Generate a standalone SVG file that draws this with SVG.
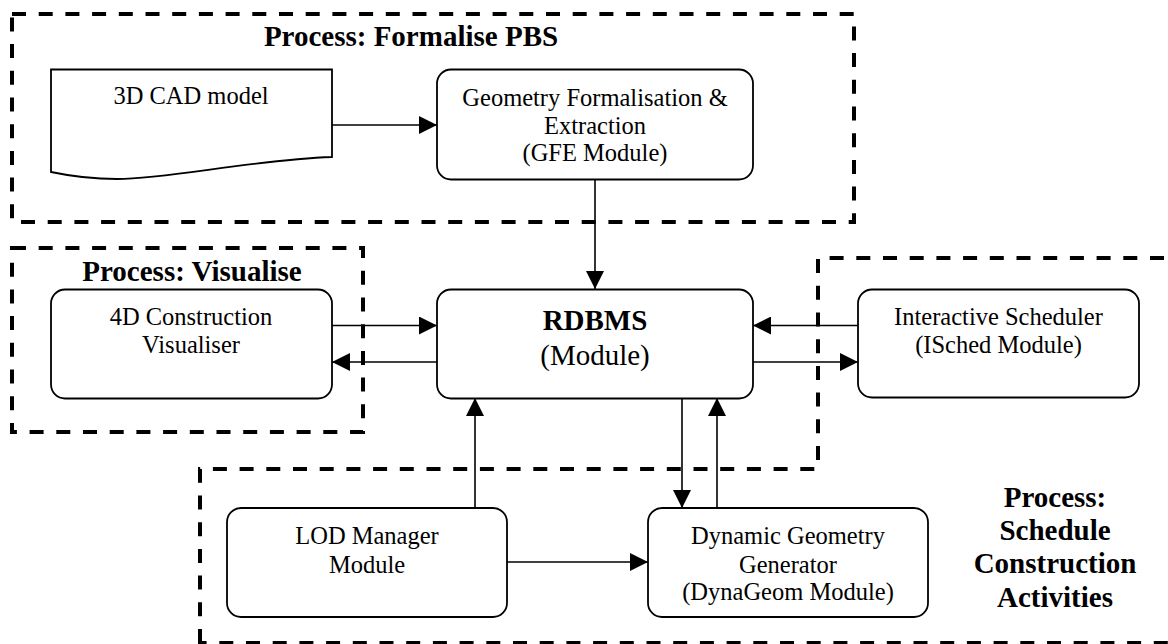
<svg xmlns="http://www.w3.org/2000/svg" width="1168" height="644" viewBox="0 0 1168 644">
<style>
.bg{fill:#fff}
.proc{fill:none;stroke:#000;stroke-width:4;stroke-dasharray:14 12.7}
.node{fill:#fff;stroke:#000;stroke-width:1.8}
.conn{fill:none;stroke:#000;stroke-width:1.6}
.t{font-family:"Liberation Serif","Times New Roman",serif;font-size:24.5px;fill:#000;text-anchor:middle}
.title{font-family:"Liberation Serif","Times New Roman",serif;font-size:29px;font-weight:bold;fill:#000;text-anchor:middle}
.big{font-family:"Liberation Serif","Times New Roman",serif;font-size:29px;fill:#000;text-anchor:middle}
</style>
<defs>
<marker id="ah" markerUnits="userSpaceOnUse" markerWidth="18" markerHeight="18" viewBox="0 0 18 18" refX="18" refY="9" orient="auto">
<path d="M0,0 L18,9 L0,18 Z" fill="#000"/>
</marker>
</defs>
<rect class="bg" x="0" y="0" width="1168" height="644"/>

<g id="process-formalise">
<rect class="proc" x="12" y="14" width="842" height="208"/>
<text class="title" x="411" y="46">Process: Formalise PBS</text>
</g>
<g id="process-visualise">
<rect class="proc" x="12" y="248" width="351" height="184"/>
<text class="title" x="192" y="281">Process: Visualise</text>
</g>
<g id="process-schedule">
<path class="proc" d="M200,643 V469 H818 V258 H1180 V643 Z"/>
<text class="title" x="1055" y="507">Process:</text>
<text class="title" x="1055" y="540">Schedule</text>
<text class="title" x="1055" y="573">Construction</text>
<text class="title" x="1055" y="607">Activities</text>
</g>

<g id="connectors">
<line class="conn" x1="332" y1="125" x2="437" y2="125" marker-end="url(#ah)"/>
<line class="conn" x1="595" y1="179" x2="595" y2="289" marker-end="url(#ah)"/>
<line class="conn" x1="332" y1="325.5" x2="437" y2="325.5" marker-end="url(#ah)"/>
<line class="conn" x1="437" y1="362" x2="332" y2="362" marker-end="url(#ah)"/>
<line class="conn" x1="858" y1="325.5" x2="753" y2="325.5" marker-end="url(#ah)"/>
<line class="conn" x1="753" y1="362" x2="858" y2="362" marker-end="url(#ah)"/>
<line class="conn" x1="475" y1="508" x2="475" y2="398" marker-end="url(#ah)"/>
<line class="conn" x1="682" y1="398" x2="682" y2="508" marker-end="url(#ah)"/>
<line class="conn" x1="717" y1="508" x2="717" y2="398" marker-end="url(#ah)"/>
<line class="conn" x1="507" y1="562" x2="648" y2="562" marker-end="url(#ah)"/>
</g>

<g id="cad-model">
<path class="node" d="M51,69.5 H332 V157 C250,160 170,179 117,179 C95,179 70,176 51,172 Z"/>
<text class="t" x="191" y="104">3D CAD model</text>
</g>
<g id="gfe">
<rect class="node" x="437" y="69.5" width="316" height="110" rx="14"/>
<text class="t" x="595" y="106">Geometry Formalisation &amp;</text>
<text class="t" x="595" y="134">Extraction</text>
<text class="t" x="595" y="161">(GFE Module)</text>
</g>
<g id="visualiser">
<rect class="node" x="51" y="289.5" width="281" height="109" rx="14"/>
<text class="t" x="191" y="325">4D Construction</text>
<text class="t" x="191" y="353">Visualiser</text>
</g>
<g id="rdbms">
<rect class="node" x="437" y="289.5" width="316" height="109" rx="14"/>
<text class="title" x="595" y="330">RDBMS</text>
<text class="big" x="595" y="365">(Module)</text>
</g>
<g id="isched">
<rect class="node" x="858" y="289.5" width="281" height="108" rx="14"/>
<text class="t" x="998.5" y="325">Interactive Scheduler</text>
<text class="t" x="998.5" y="353">(ISched Module)</text>
</g>
<g id="lod">
<rect class="node" x="227" y="508" width="280" height="109" rx="14"/>
<text class="t" x="367" y="544">LOD Manager</text>
<text class="t" x="367" y="572.5">Module</text>
</g>
<g id="dynageom">
<rect class="node" x="648" y="508" width="280" height="109" rx="14"/>
<text class="t" x="788" y="543.5">Dynamic Geometry</text>
<text class="t" x="788" y="572.5">Generator</text>
<text class="t" x="788" y="600">(DynaGeom Module)</text>
</g>
</svg>
